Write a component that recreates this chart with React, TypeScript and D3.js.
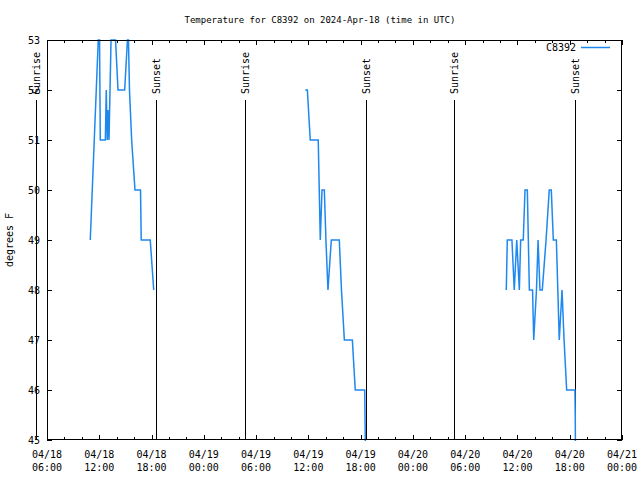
import React from "react";
import * as d3 from "d3";

const TITLE = "Temperature for C8392 on 2024-Apr-18 (time in UTC)";
const SERIES_NAME = "C8392";
const Y_LABEL = "degrees F";

// Observation times (UTC) and temperatures (°F); null marks a data gap
const obsTimes: string[] = [
  "04-18 10:58", "04-18 11:53", "04-18 12:02", "04-18 12:07", "04-18 12:42", "04-18 12:48",
  "04-18 12:55", "04-18 13:00", "04-18 13:07", "04-18 13:21", "04-18 13:52", "04-18 14:09",
  "04-18 14:55", "04-18 15:14", "04-18 15:21", "04-18 15:28", "04-18 15:43", "04-18 16:06",
  "04-18 16:44", "04-18 16:49", "04-18 17:51", "04-18 18:15",
  "04-19 00:00",
  "04-19 11:39", "04-19 11:53", "04-19 12:13", "04-19 13:08", "04-19 13:22", "04-19 13:34",
  "04-19 13:50", "04-19 14:01", "04-19 14:15", "04-19 14:38", "04-19 15:33", "04-19 15:48",
  "04-19 16:08", "04-19 17:03", "04-19 17:23", "04-19 18:28", "04-19 18:30", "04-19 18:34",
  "04-20 00:00",
  "04-20 10:43", "04-20 10:50", "04-20 11:22", "04-20 11:38", "04-20 11:55", "04-20 12:13",
  "04-20 12:22", "04-20 12:40", "04-20 12:52", "04-20 13:08", "04-20 13:22", "04-20 13:44",
  "04-20 13:52", "04-20 14:11", "04-20 14:22", "04-20 14:35", "04-20 14:51", "04-20 15:17",
  "04-20 15:39", "04-20 15:53", "04-20 16:07", "04-20 16:28", "04-20 16:48", "04-20 17:07",
  "04-20 17:21", "04-20 17:39", "04-20 18:36", "04-20 18:38", "04-20 18:40",
];
const obsTemps: (number | null)[] = [
  49, 53, 53, 51, 51, 52,
  51, 51.6, 51, 53, 53, 52,
  52, 53, 53, 52, 51, 50,
  50, 49, 49, 48,
  null,
  52, 52, 51, 51, 49, 50,
  50, 49, 48, 49, 49, 48,
  47, 47, 46, 46, 45.5, 44.5,
  null,
  48, 49, 49, 48, 49, 48,
  49, 49, 50, 50, 48, 48,
  47, 48, 49, 48, 48, 49,
  50, 50, 49, 49, 47, 48,
  47, 46, 46, 45.5, 44.5,
];

const sunEventTimes: string[] = [
  "04-18 04:44", "04-18 18:33", "04-19 04:45", "04-19 18:34", "04-20 04:44", "04-20 18:35",
];
const sunEventLabels: string[] = ["Sunrise", "Sunset", "Sunrise", "Sunset", "Sunrise", "Sunset"];

const xDomain: string[] = ["04-18 06:00", "04-21 00:00"];
const yDomain: number[] = [45, 53];
const yTicks: number[] = [45, 46, 47, 48, 49, 50, 51, 52, 53];

const parse = d3.utcParse("%Y-%m-%d %H:%M");
const toDate = (s: string) => parse("2024-" + s) as Date;

export default function App() {
  const W = 640, H = 480;
  const L = 47, R = 622, T = 40, B = 440;
  const font = "'DejaVu Sans Mono', monospace";

  const x = d3.scaleUtc().domain(xDomain.map(toDate)).range([L, R]);
  const y = d3.scaleLinear().domain(yDomain).range([B, T]);

  const data = obsTimes.map((t, i) => ({ t: toDate(t), v: obsTemps[i] }));
  const line = d3
    .line<{ t: Date; v: number | null }>()
    .defined((d) => d.v !== null)
    .x((d) => x(d.t))
    .y((d) => y(d.v as number));

  const minorTicks = x.ticks(d3.utcHour.every(2) as any);
  const majorTicks = x.ticks(d3.utcHour.every(6) as any);
  const fmtDay = d3.utcFormat("%m/%d");
  const fmtHour = d3.utcFormat("%H:%M");

  return (
    <svg width={W} height={H} style={{ position: "absolute", left: 0, top: 0, background: "#fff" }}>
      <defs>
        <clipPath id="plotclip">
          <rect x={L} y={T - 1} width={R - L} height={B - T + 2} />
        </clipPath>
      </defs>
      <rect x={0} y={0} width={W} height={H} fill="#fff" />
      <text x={320} y={23} textAnchor="middle" fontFamily={font} fontSize={9} fill="#000">
        {TITLE}
      </text>

      {/* x ticks */}
      {minorTicks.map((d, i) => {
        const major = d.getUTCHours() % 6 === 0;
        const len = major ? 5 : 3;
        const xp = Math.round(x(d)) + 0.5;
        return (
          <g key={"xt" + i} stroke="#000" strokeWidth={1}>
            <line x1={xp} x2={xp} y1={B} y2={B - len} />
            <line x1={xp} x2={xp} y1={T} y2={T + len} />
          </g>
        );
      })}
      {majorTicks.map((d, i) => (
        <text key={"xl" + i} x={x(d)} y={458} textAnchor="middle" fontFamily={font} fontSize={10} fill="#000">
          <tspan x={x(d)}>{fmtDay(d)}</tspan>
          <tspan x={x(d)} dy={13}>{fmtHour(d)}</tspan>
        </text>
      ))}

      {/* y ticks */}
      {yTicks.map((v) => {
        const yp = Math.round(y(v)) + 0.5;
        return (
          <g key={"yt" + v}>
            <line x1={L} x2={L + 5} y1={yp} y2={yp} stroke="#000" />
            <line x1={R} x2={R - 5} y1={yp} y2={yp} stroke="#000" />
            <text x={40} y={y(v)} dy="0.35em" textAnchor="end" fontFamily={font} fontSize={10} fill="#000">
              {v}
            </text>
          </g>
        );
      })}

      <text
        transform={`translate(13,${(T + B) / 2}) rotate(-90)`}
        textAnchor="middle"
        fontFamily={font}
        fontSize={10}
        fill="#000"
      >
        {Y_LABEL}
      </text>

      {/* sunrise / sunset markers */}
      {sunEventTimes.map((t, i) => {
        const xp = Math.round(x(toDate(t))) + 0.5;
        return (
          <g key={"sun" + i}>
            <line x1={xp} x2={xp} y1={100} y2={B} stroke="#000" strokeWidth={1} />
            <text
              transform={`translate(${xp},94) rotate(-90)`}
              textAnchor="start"
              dy="0.35em"
              fontFamily={font}
              fontSize={10}
              fill="#000"
            >
              {sunEventLabels[i]}
            </text>
          </g>
        );
      })}

      {/* data */}
      <path
        d={line(data) || ""}
        fill="none"
        stroke="#1e88f0"
        strokeWidth={1.5}
        clipPath="url(#plotclip)"
      />

      {/* border */}
      <rect x={L + 0.5} y={T + 0.5} width={R - L - 1} height={B - T - 1} fill="none" stroke="#000" strokeWidth={1} />

      {/* legend */}
      <text x={576} y={47} dy="0.35em" textAnchor="end" fontFamily={font} fontSize={10} fill="#000">
        {SERIES_NAME}
      </text>
      <line x1={581} x2={610} y1={47.5} y2={47.5} stroke="#1e88f0" strokeWidth={1.5} />
    </svg>
  );
}
